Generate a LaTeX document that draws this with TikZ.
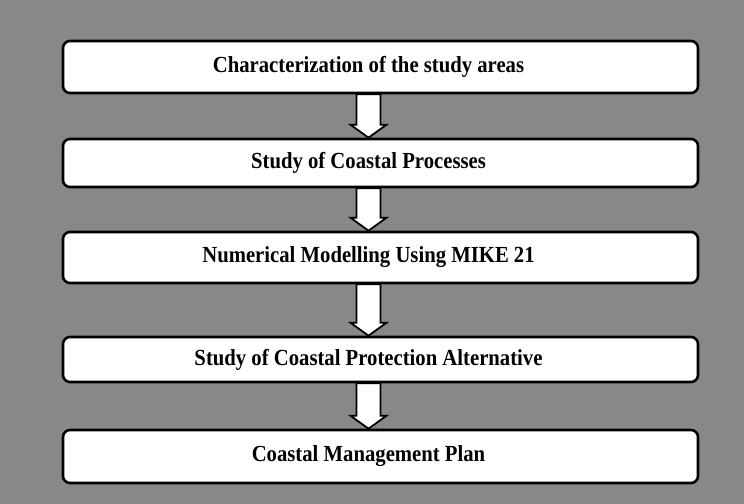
\documentclass[tikz,border=0pt]{standalone}
\usepackage{fontspec}
\newfontfamily\boxfont{Liberation Serif}[FakeStretch=0.9]
\usetikzlibrary{calc}
\definecolor{bggray}{RGB}{136,136,136}
\tikzset{
  stepbox/.style={draw=black, line width=2.6bp, fill=white, rounded corners=7bp,
    minimum width=635bp, inner sep=0pt},
  boxtext/.style={font=\boxfont\bfseries\fontsize{23bp}{25bp}\selectfont, text=black},
  blockarrow/.style={draw=black, line width=1.8bp, fill=white, line join=miter},
}
\newcommand\flowarrow[2]{%
  \path[blockarrow] let \p1=([xshift=-12bp]#1.south), \p2=([xshift=-12bp]#2.north) in
    (\x1-12bp,\y1) -- (\x1+12bp,\y1) -- (\x1+12bp,\y2+13bp) -- (\x1+18bp,\y2+13bp)
    -- (\x1,\y2) -- (\x1-18bp,\y2+13bp) -- (\x1-12bp,\y2+13bp) -- cycle;}
\begin{document}
\begin{tikzpicture}[x=1bp,y=-1bp]
\fill[bggray] (0,0) rectangle (744,504);
\useasboundingbox (0,0) rectangle (744,504);
\node[stepbox, minimum height=52bp, label={[boxtext,xshift=-12bp]center:Characterization of the study areas}] (b1) at (380.5,67) {};
\node[stepbox, minimum height=48bp, label={[boxtext,xshift=-12bp]center:Study of Coastal Processes}] (b2) at (380.5,163) {};
\node[stepbox, minimum height=51bp, label={[boxtext,xshift=-12bp]center:Numerical Modelling Using MIKE 21}] (b3) at (380.5,257.5) {};
\node[stepbox, minimum height=45bp, label={[boxtext,xshift=-12bp]center:Study of Coastal Protection Alternative}] (b4) at (380.5,359.5) {};
\node[stepbox, minimum height=53bp, label={[boxtext,xshift=-12bp]center:Coastal Management Plan}] (b5) at (380.5,456.5) {};
\flowarrow{b1}{b2}
\flowarrow{b2}{b3}
\flowarrow{b3}{b4}
\flowarrow{b4}{b5}
\end{tikzpicture}
\end{document}
